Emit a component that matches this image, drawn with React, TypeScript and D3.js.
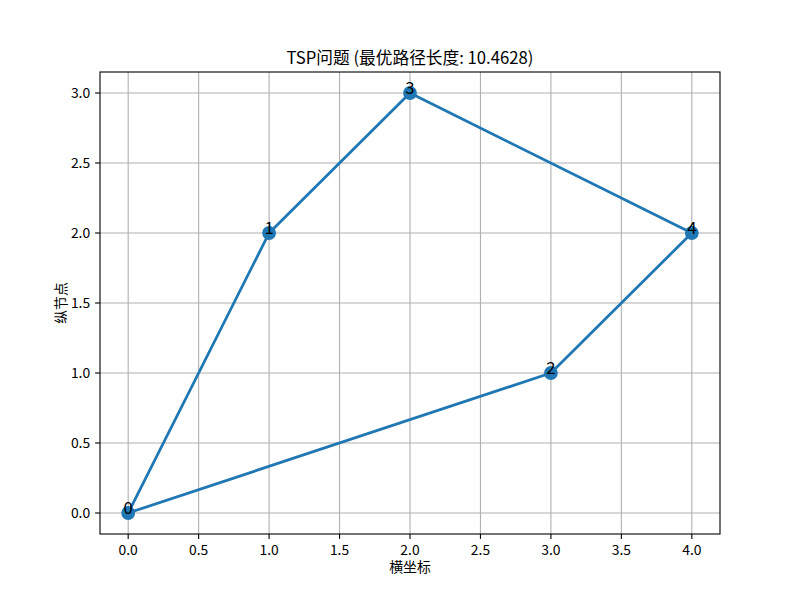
import React from "react";
import * as d3 from "d3";

const nodeX = [0, 1, 3, 2, 4];
const nodeY = [0, 2, 1, 3, 2];
const route = [0, 1, 3, 4, 2, 0];
const xTicks = [0, 0.5, 1, 1.5, 2, 2.5, 3, 3.5, 4];
const yTicks = [0, 0.5, 1, 1.5, 2, 2.5, 3];
const title = "TSP问题 (最优路径长度: 10.4628)";
const xLabel = "横坐标";
const yLabel = "纵节点";

const W = 800, H = 600;
const L = 100, R = 720, T = 72, B = 534;
const FONT = "'Noto Sans CJK SC', 'DejaVu Sans', sans-serif";
const C = "#1f77b4";

export default function App() {
  const x = d3.scaleLinear().domain([-0.2, 4.2]).range([L, R]);
  const y = d3.scaleLinear().domain([-0.15, 3.15]).range([B, T]);
  const line = d3.line<number>().x((i) => x(nodeX[i])).y((i) => y(nodeY[i]));
  const tl = 4.9;
  return (
    <svg width={W} height={H} style={{ display: "block", position: "absolute", left: 0, top: 0 }} fontFamily={FONT}>
      <rect width={W} height={H} fill="#fff" />
      {xTicks.map((t) => (
        <line key={"gx" + t} x1={x(t)} x2={x(t)} y1={T} y2={B} stroke="#b0b0b0" strokeWidth={1.1} />
      ))}
      {yTicks.map((t) => (
        <line key={"gy" + t} x1={L} x2={R} y1={y(t)} y2={y(t)} stroke="#b0b0b0" strokeWidth={1.1} />
      ))}
      <path d={line(route) || ""} fill="none" stroke={C} strokeWidth={2.78} strokeLinejoin="round" strokeLinecap="square" />
      {nodeX.map((v, i) => (
        <circle key={"p" + i} cx={x(v)} cy={y(nodeY[i])} r={6.9} fill={C} />
      ))}
      {nodeX.map((v, i) => (
        <text key={"t" + i} x={x(v)} y={y(nodeY[i]) + 1} textAnchor="middle" fontSize={16.7} fill="#000">
          {i}
        </text>
      ))}
      <rect x={L} y={T} width={R - L} height={B - T} fill="none" stroke="#000" strokeWidth={1.1} />
      {xTicks.map((t) => (
        <g key={"xt" + t}>
          <line x1={x(t)} x2={x(t)} y1={B} y2={B + tl} stroke="#000" strokeWidth={1.1} />
          <text x={x(t)} y={B + tl + 4.9 + 11} textAnchor="middle" fontSize={13.9} fill="#000">
            {t.toFixed(1)}
          </text>
        </g>
      ))}
      {yTicks.map((t) => (
        <g key={"yt" + t}>
          <line x1={L - tl} x2={L} y1={y(t)} y2={y(t)} stroke="#000" strokeWidth={1.1} />
          <text x={L - tl - 4.9} y={y(t)} dy="0.35em" textAnchor="end" fontSize={13.9} fill="#000">
            {t.toFixed(1)}
          </text>
        </g>
      ))}
      <text x={(L + R) / 2} y={T - 8.3} textAnchor="middle" fontSize={16.7} fill="#000">
        {title}
      </text>
      <text x={(L + R) / 2} y={572} textAnchor="middle" fontSize={13.9} fill="#000">
        {xLabel}
      </text>
      <text transform={`translate(66,${(T + B) / 2}) rotate(-90)`} textAnchor="middle" fontSize={13.9} fill="#000">
        {yLabel}
      </text>
    </svg>
  );
}
